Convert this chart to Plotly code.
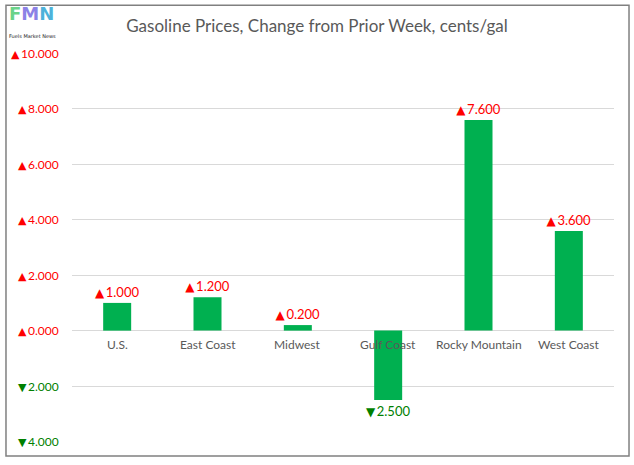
import plotly.graph_objects as go

categories = ["U.S.", "East Coast", "Midwest", "Gulf Coast", "Rocky Mountain", "West Coast"]
values = [1.0, 1.2, 0.2, -2.5, 7.6, 3.6]
tick_vals = [10, 8, 6, 4, 2, 0, -2, -4]
title_text = "Gasoline Prices, Change from Prior Week, cents/gal"

RED = "#FF0000"
GREEN = "#008000"
BAR = "#00B050"
FONT = "Lato"

def fmt(v, tri_size):
    tri = "▲" if v >= 0 else "▼"
    return (f'<span style="font-family:DejaVu Sans;font-size:{tri_size}px">' + tri + '</span>'
            + "\u2009" + f"{abs(v):.3f}")

tick_text = [fmt(v, 11) for v in tick_vals]
tick_colors = [RED if v >= 0 else GREEN for v in tick_vals]
bar_text = [fmt(v, 12) for v in values]
bar_text_colors = [RED if v >= 0 else GREEN for v in values]

fig = go.Figure()
fig.add_trace(go.Bar(
    x=categories, y=values, width=0.31,
    marker=dict(color=BAR, line=dict(width=0)),
    text=bar_text, textposition="outside", constraintext="none",
    textfont=dict(color=bar_text_colors, size=13, family=FONT),
    cliponaxis=False, hoverinfo="skip",
))

annotations = []
for c in categories:
    annotations.append(dict(x=c, y=0, xref="x", yref="y", text=c, showarrow=False,
                            yanchor="top", yshift=-4,
                            font=dict(size=12, color="#595959", family=FONT)))
for v, t, col in zip(tick_vals, tick_text, tick_colors):
    annotations.append(dict(x=0, y=v, xref="paper", yref="y", text=t, showarrow=False,
                            xanchor="right", xshift=-11,
                            font=dict(size=12, color=col, family=FONT)))
# logo
logo = ('<b><span style="color:#6BD38A">F</span><span style="color:#8C82E6">M</span>'
        '<span style="color:#4DB2DA">N</span></b>')
annotations += [
    dict(x=-0.119, y=1.13, xref="paper", yref="paper", text=logo, showarrow=False,
         xanchor="left", yanchor="top", font=dict(size=18, family="DejaVu Sans"),
         borderpad=0),
    dict(x=-0.118, y=1.055, xref="paper", yref="paper", text="Fuels Market News", showarrow=False,
         xanchor="left", yanchor="top", font=dict(size=5, color="#222222", family="DejaVu Sans"),
         borderpad=0),
]

fig.update_layout(
    width=634, height=465,
    margin=dict(l=72, r=20, t=53, b=23),
    paper_bgcolor="white", plot_bgcolor="white",
    showlegend=False,
    title=dict(text=title_text, x=0.5, xanchor="center", y=0.943, yanchor="middle",
               font=dict(size=17, color="#595959", family=FONT)),
    xaxis=dict(showticklabels=False, showgrid=False, zeroline=False, showline=False,
               range=[-0.5, 5.5]),
    yaxis=dict(range=[-4.02, 10.02], tickvals=tick_vals, showticklabels=False,
               showgrid=True, gridcolor="#D9D9D9", gridwidth=1,
               zeroline=True, zerolinecolor="#D9D9D9", zerolinewidth=1, showline=False),
    annotations=annotations,
    shapes=[dict(type="rect", xref="paper", yref="paper",
                 x0=-0.1218, x1=1.0277, y0=-0.036, y1=1.123,
                 line=dict(color="#808080", width=1.5), fillcolor="rgba(0,0,0,0)")],
)

fig.write_html("out.html", config={"displayModeBar": False},
               post_script="document.body.style.margin='0px';document.body.style.overflow='hidden';")
